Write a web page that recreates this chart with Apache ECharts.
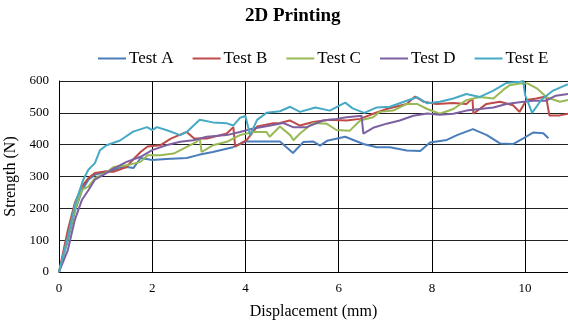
<!DOCTYPE html>
<html><head><meta charset="utf-8">
<script src="https://cdn.jsdelivr.net/npm/echarts@6/dist/echarts.min.js"></script>
<style>html,body{margin:0;padding:0;background:#fff}#c{width:568px;height:320px}</style>
</head><body><div id="c"></div>
<script>
var seriesNames = ['Test A', 'Test B', 'Test C', 'Test D', 'Test E'];
var xTicks = [0, 2, 4, 6, 8, 10];
var yTicks = [0, 100, 200, 300, 400, 500, 600];

var testA = [[0,0],[0.19,100],[0.34,190],[0.49,255],[0.63,290],[0.77,305],[0.99,315],[1.17,320],[1.3,328],[1.45,330],[1.6,327],[1.75,358],[2.0,352],[2.3,355],[2.74,358],[3.0,368],[3.3,377],[3.73,392],[4.0,410],[4.3,410],[4.74,410],[5.02,374],[5.24,408],[5.45,410],[5.6,397],[5.75,412],[6.14,425],[6.53,402],[6.82,392],[7.1,392],[7.46,382],[7.75,380],[7.96,407],[8.32,415],[8.54,430],[8.88,449],[9.18,430],[9.46,404],[9.74,402],[9.96,420],[10.17,438],[10.39,436],[10.5,420]];
var testB = [[0,0],[0.19,132],[0.34,217],[0.49,268],[0.63,295],[0.77,311],[0.99,316],[1.17,315],[1.45,330],[1.6,355],[1.75,377],[1.9,394],[2.17,398],[2.4,419],[2.74,440],[2.9,419],[3.17,419],[3.6,435],[3.74,455],[3.78,394],[4.03,415],[4.25,457],[4.6,467],[4.74,468],[4.95,476],[5.17,460],[5.45,471],[5.81,478],[6.17,476],[6.46,481],[6.74,497],[7.03,512],[7.46,528],[7.64,551],[7.82,535],[8.1,528],[8.46,531],[8.74,528],[8.87,545],[8.89,497],[9.17,528],[9.46,535],[9.74,524],[9.88,503],[10.03,540],[10.24,545],[10.45,551],[10.52,492],[10.74,492],[10.92,497]];
var testC = [[0,0],[0.19,105],[0.34,195],[0.49,258],[0.63,268],[0.77,295],[0.99,310],[1.17,330],[1.45,335],[1.75,346],[1.9,367],[2.17,367],[2.46,372],[2.74,393],[2.95,409],[3.02,419],[3.06,377],[3.3,398],[3.6,409],[3.88,430],[4.17,440],[4.45,440],[4.52,425],[4.74,457],[4.96,430],[5.03,414],[5.17,435],[5.45,468],[5.74,466],[5.95,446],[6.24,444],[6.46,476],[6.74,486],[6.88,503],[7.17,507],[7.46,528],[7.68,528],[7.9,512],[8.17,497],[8.46,512],[8.74,540],[9.03,550],[9.32,545],[9.53,572],[9.67,587],[9.88,592],[10.06,592],[10.25,577],[10.47,548],[10.75,535],[10.92,540]];
var testD = [[0,0],[0.19,69],[0.34,164],[0.49,226],[0.63,257],[0.77,290],[0.99,308],[1.17,325],[1.45,346],[1.75,362],[2.0,383],[2.3,398],[2.6,409],[2.88,414],[3.17,425],[3.6,430],[3.88,440],[4.17,451],[4.45,458],[4.81,468],[5.02,455],[5.31,455],[5.67,476],[5.95,481],[6.17,486],[6.49,491],[6.53,435],[6.74,453],[7.03,466],[7.31,476],[7.6,491],[7.9,498],[8.17,494],[8.46,497],[8.74,507],[9.03,512],[9.32,517],[9.6,528],[9.88,533],[10.17,538],[10.45,538],[10.66,554],[10.92,559]];
var testE = [[0,0],[0.19,110],[0.34,210],[0.52,290],[0.63,321],[0.77,342],[0.88,383],[1.02,398],[1.31,413],[1.59,441],[1.89,455],[2.0,446],[2.1,455],[2.3,446],[2.6,430],[2.74,440],[3.02,478],[3.3,470],[3.6,467],[3.74,460],[3.88,484],[4.0,490],[4.1,430],[4.25,478],[4.45,500],[4.74,505],[4.96,519],[5.17,503],[5.5,517],[5.81,507],[6.14,532],[6.3,514],[6.55,500],[6.82,517],[7.1,519],[7.46,538],[7.68,549],[7.9,530],[8.17,535],[8.46,545],[8.74,559],[9.03,550],[9.32,570],[9.6,594],[9.74,596],[9.9,598],[9.96,600],[10.0,556],[10.15,500],[10.35,541],[10.6,570],[10.92,590]];

var colors = ['#4A7EBB', '#BE4B48', '#98B954', '#7D60A0', '#46AAC5'];
var allData = [testA, testB, testC, testD, testE];
var font = 'Liberation Serif';

var chart = echarts.init(document.getElementById('c'));
chart.setOption({
  animation: false,
  textStyle: {fontFamily: font},
  title: {text: '2D Printing', left: 245, top: 7, padding: 0, textStyle: {fontFamily: font, fontSize: 19, fontWeight: 'bold', color: '#000'}},
  legend: {
    data: seriesNames, left: 98, top: 50, padding: 0, itemWidth: 28, itemHeight: 2, itemGap: 19,
    icon: 'rect',
    textStyle: {fontFamily: font, fontSize: 17, color: '#000', padding: [0,0,0,-2]}
  },
  grid: {left: 59, right: 0, top: 81, bottom: 48, containLabel: false, outerBoundsMode: 'none'},
  xAxis: {
    type: 'value', min: 0, max: 10.92, interval: 2,
    name: 'Displacement (mm)', nameLocation: 'middle', nameGap: 32,
    nameTextStyle: {fontFamily: font, fontSize: 16, color: '#000'},
    axisLine: {show: true, lineStyle: {color: '#000', width: 1}},
    axisTick: {show: false},
    axisLabel: {fontFamily: font, fontSize: 13, color: '#000', margin: 10,
      formatter: function (v) { return xTicks.indexOf(v) >= 0 ? String(v) : ''; }},
    splitLine: {show: true, lineStyle: {color: '#000', width: 1}}
  },
  yAxis: {
    type: 'value', min: 0, max: 600, interval: 100,
    name: 'Strength (N)', nameLocation: 'middle', nameGap: 38,
    nameTextStyle: {fontFamily: font, fontSize: 16, color: '#000'},
    axisLine: {show: true, lineStyle: {color: '#000', width: 1}},
    axisTick: {show: false},
    axisLabel: {fontFamily: font, fontSize: 13, color: '#000', margin: 10,
      formatter: function (v) { return yTicks.indexOf(v) >= 0 ? String(v) : ''; }},
    splitLine: {show: true, lineStyle: {color: '#222', width: 1}}
  },
  series: seriesNames.map(function (n, i) {
    return {name: n, type: 'line', data: allData[i], showSymbol: false, symbol: 'none',
      lineStyle: {color: colors[i], width: 2}, itemStyle: {color: colors[i]}, clip: true};
  })
});
</script></body></html>
